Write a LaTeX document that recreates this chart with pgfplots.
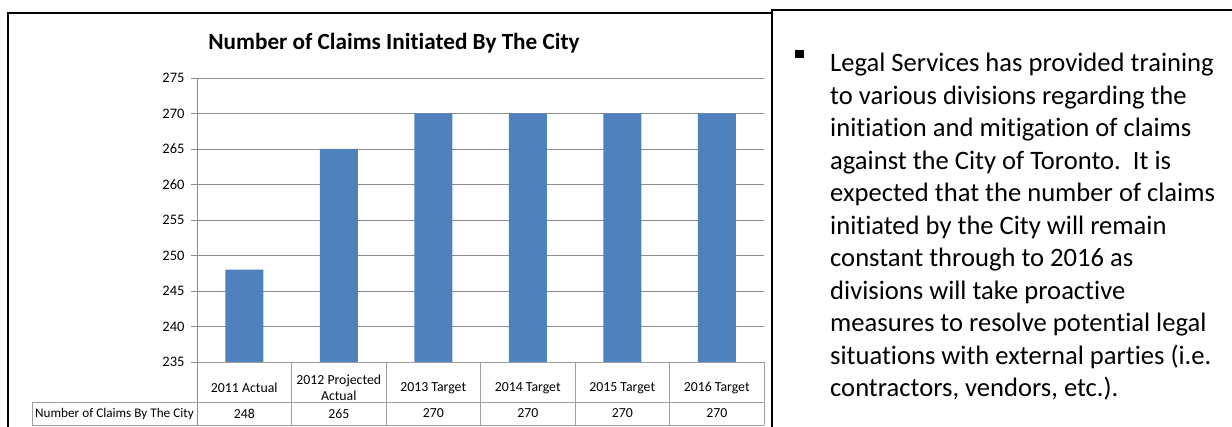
\documentclass[border=0pt]{standalone}
\usepackage{pgfplots}
\pgfplotsset{compat=1.18}
\usepackage{fontspec}
\setmainfont{Carlito}[Ligatures={NoCommon}]
\definecolor{barblue}{HTML}{4F81BD}
\definecolor{gridgray}{HTML}{8C8C8C}
\definecolor{tabgray}{HTML}{A0A0A0}
\begin{document}
\begin{tikzpicture}[x=1pt,y=1pt]
\path[use as bounding box] (0,0) rectangle (1232,427);
\begin{axis}[
 at={(197pt,65pt)}, anchor=south west,
 scale only axis, width=567pt, height=284pt,
 xmin=-0.5, xmax=5.5, ymin=235, ymax=275,
 ytick={235,240,...,275},
 xtick={0,...,5},
 xticklabels={2011 Actual, {2012 Projected\\Actual}, 2013 Target, 2014 Target, 2015 Target, 2016 Target},
 xticklabel style={anchor=center, yshift=-20pt, align=center, font=\fontsize{13.8}{16.5}\selectfont},
 x tick style={draw=none},
 xtick pos=bottom, ytick pos=left,
 ymajorgrids, grid style={gridgray, line width=0.8pt},
 axis line style={draw=none},
 y tick style={gridgray, line width=0.8pt},
 major tick length=6pt, tick align=outside,
 yticklabel style={font=\fontsize{14.5}{15}\selectfont, xshift=-3pt},
 /pgf/number format/assume math mode=true,
 ybar, bar width=38pt,
]
\addplot[fill=barblue, draw=none] coordinates {(0,248) (1,265) (2,270) (3,270) (4,270) (5,270)};
\end{axis}
% chart axis line and data table
\draw[gridgray, line width=0.8pt] (197,349) -- (197,2);
\draw[tabgray, line width=0.8pt] (197,65) -- (764,65);
\draw[tabgray, line width=0.8pt] (32,25) -- (764,25);
\draw[tabgray, line width=0.8pt] (32,2) -- (764,2);
\draw[tabgray, line width=0.8pt] (32,25) -- (32,2);
\foreach \k in {1,...,6} {\draw[tabgray, line width=0.8pt] ({197+94.5*\k},65) -- ({197+94.5*\k},2);}
\node[anchor=west, inner sep=0pt, font=\fontsize{13.2}{15}\selectfont] at (35,13.5) {Number of Claims By The City};
\begin{scope}[every node/.style={font=\fontsize{13.8}{15}\selectfont}]
\node at (244.25,13.5) {248};
\node at (338.75,13.5) {265};
\node at (433.25,13.5) {270};
\node at (527.75,13.5) {270};
\node at (622.25,13.5) {270};
\node at (716.75,13.5) {270};
\end{scope}
% title
\node[anchor=base, font=\bfseries\fontsize{23.2}{26}\selectfont] at (394,377) {Number of Claims Initiated By The City};
% frames
\draw[line width=2.2pt] (8,-5) -- (8,414) -- (771,414);
\draw[line width=2pt] (771.5,-5) -- (771.5,417) -- (1240,417);
% right text
\fill (795,369) rectangle (804,377);
\begin{scope}[every node/.style={anchor=base west, inner sep=0pt, font=\fontsize{26.6}{30}\selectfont}]
\node at (830,355) {Legal Services has provided training};
\node at (830,322.5) {to various divisions regarding the};
\node at (830,290) {initiation and mitigation of claims};
\node at (830,257.5) {against the City of Toronto.\ \ It is};
\node at (830,225) {expected that the number of claims};
\node at (830,192.5) {initiated by the City will remain};
\node at (830,160) {constant through to 2016 as};
\node at (830,127.5) {divisions will take proactive};
\node at (830,95) {measures to resolve potential legal};
\node at (830,62.5) {situations with external parties (i.e.};
\node at (830,30) {contractors, vendors, etc.).};
\end{scope}
\end{tikzpicture}
\end{document}
